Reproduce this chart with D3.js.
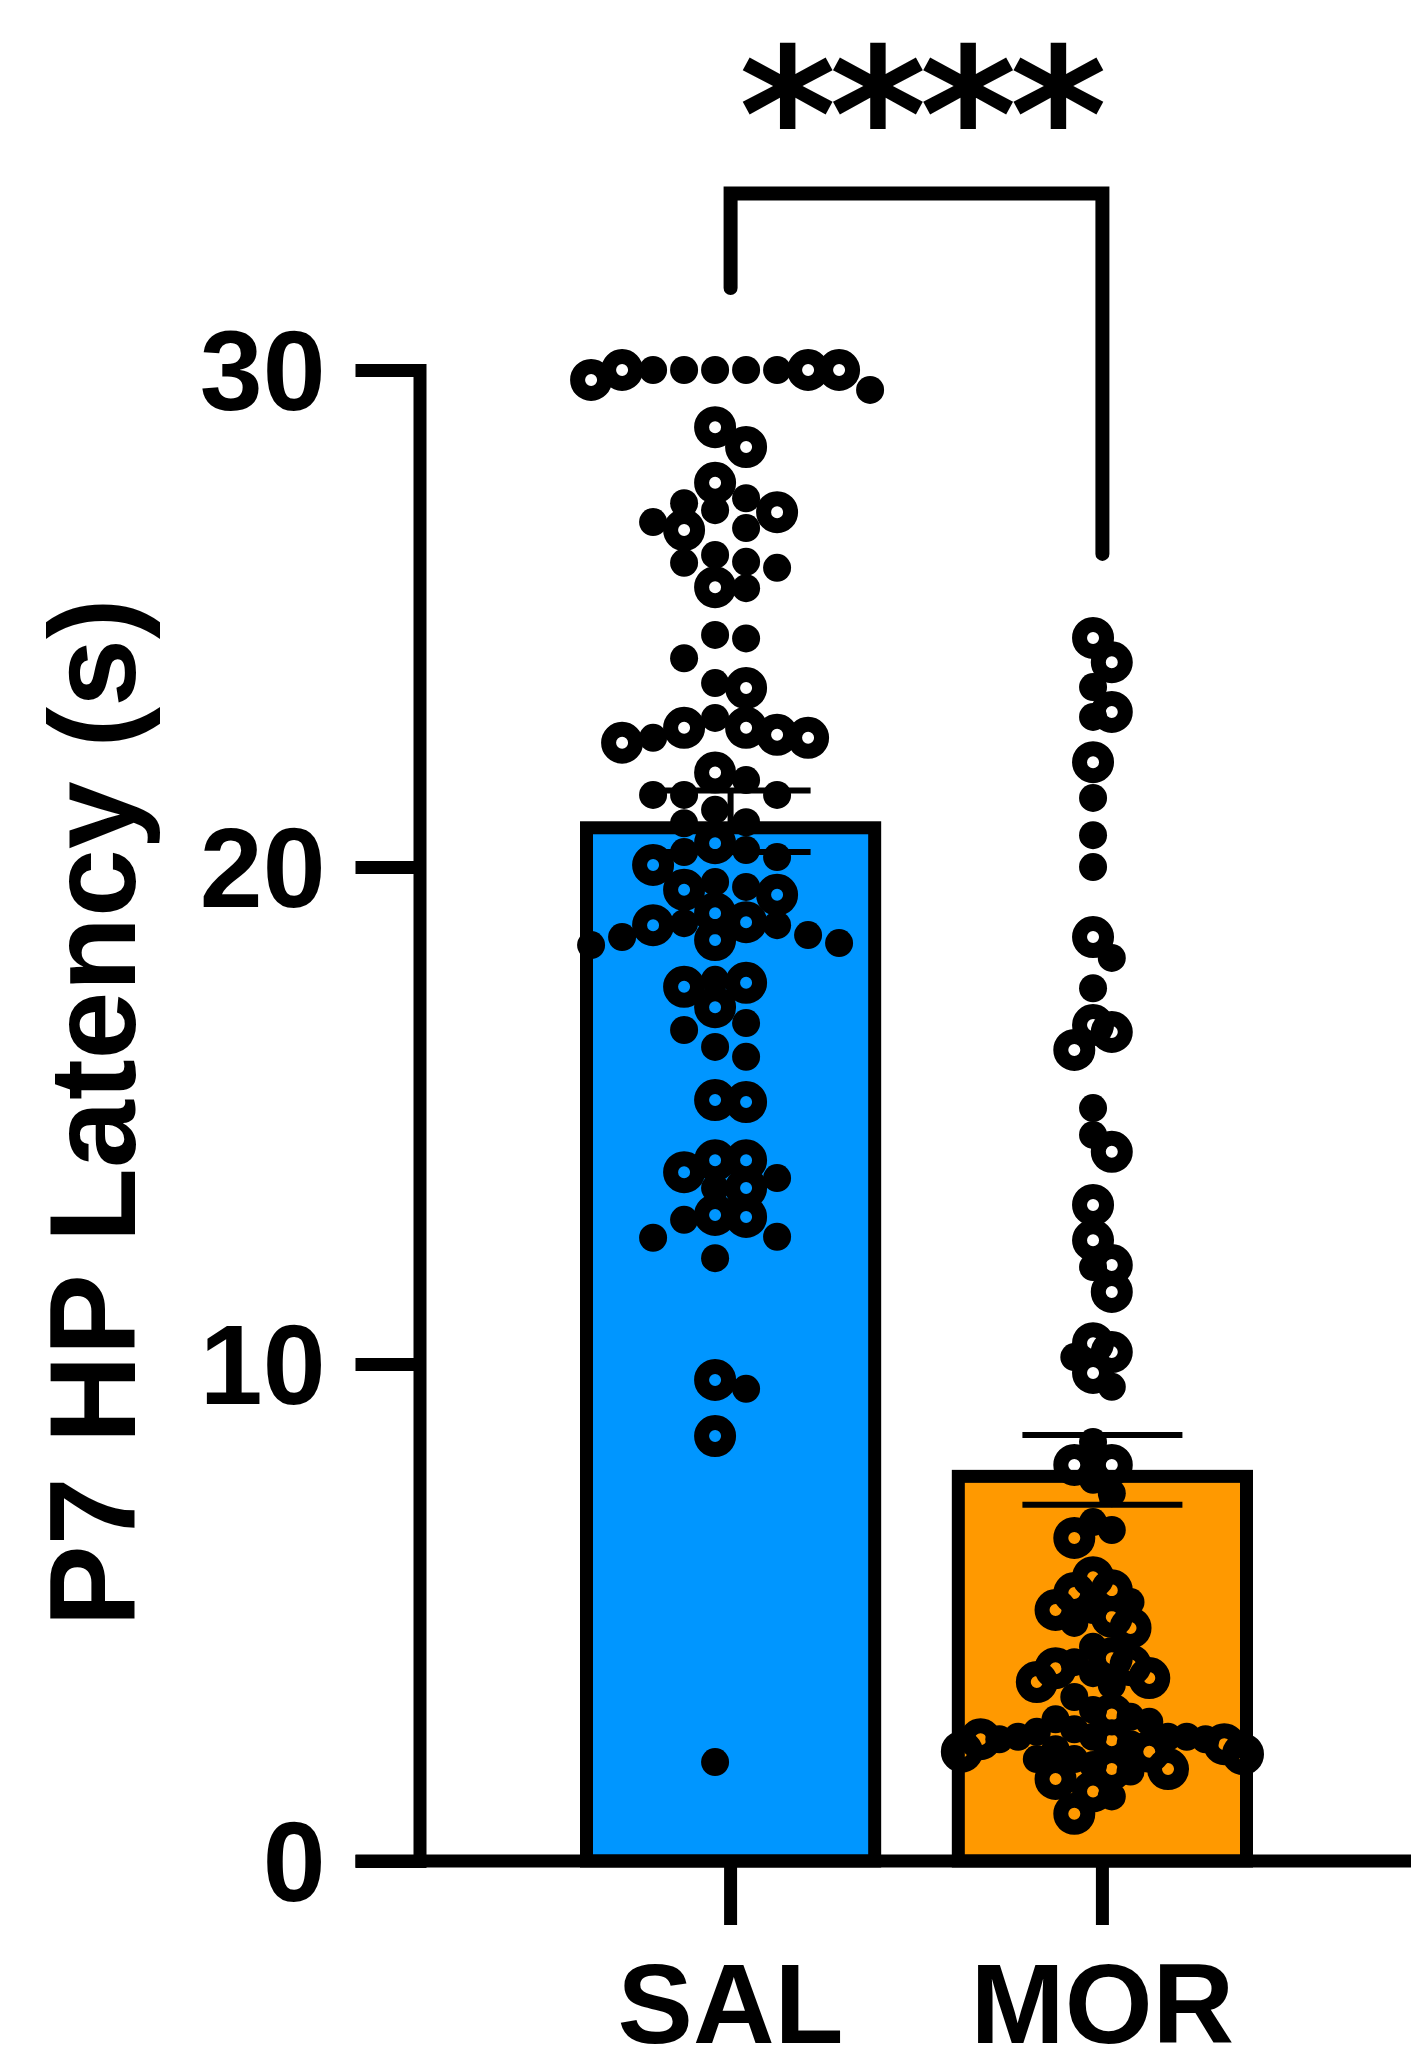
<!DOCTYPE html>
<html>
<head>
<meta charset="utf-8">
<script src="https://cdn.jsdelivr.net/npm/d3@7"></script>
<style>
  html, body { margin: 0; padding: 0; background: #fff; }
  svg { display: block; }
</style>
</head>
<body>
<svg id="chart" width="1411" height="2068"></svg>
<script>
// ---- data ----
const categories = ["SAL", "MOR"];
const barColors = ["#0096FF", "#FF9900"];
const barMeans = [20.92, 7.87];
const barSEM = [0.62, 0.70];
const yTicks = [0, 10, 20, 30];
const yLabel = "P7 HP Latency (s)";
const significance = "****";

// individual latencies (s); filled and open symbols are the two subgroups
const salFilled = [30.0, 30.0, 30.0, 30.0, 30.0, 29.6, 27.32, 27.42, 26.94, 26.82, 27.18, 26.02, 26.28,
  25.61, 26.12, 26.14, 24.6, 24.67, 24.2, 23.7, 22.6, 23.0, 21.75, 21.45, 21.45, 21.45, 21.15, 20.9,
  20.88, 20.2, 20.3, 20.34, 19.6, 19.7, 18.87, 18.47, 18.59, 18.43, 18.63, 18.83, 17.73, 16.86, 16.72,
  16.38, 16.18, 13.74, 13.54, 12.9, 12.56, 12.54, 12.13, 9.5, 1.99];
const salOpen = [30.0, 29.8, 30.0, 30.0, 28.85, 28.45, 27.73, 26.78, 27.14, 25.63, 23.6, 22.5, 22.66,
  22.6, 22.8, 22.8, 21.9, 20.48, 20.04, 19.54, 19.44, 19.07, 18.83, 18.53, 18.89, 17.67, 17.59, 17.18,
  15.31, 15.27, 14.1, 14.1, 13.86, 13.54, 13.0, 12.96, 9.68, 8.55];
const morFilled = [23.62, 23.02, 21.39, 20.64, 20.0, 18.17, 17.56, 15.15, 14.61, 11.95, 10.14, 9.54,
  8.43, 7.67, 7.4, 6.82, 6.66, 4.79, 5.21, 5.05, 3.78, 3.54, 4.31, 3.3, 4.0, 3.04, 2.9, 2.85, 2.45,
  2.25, 2.05, 2.5, 2.5, 2.6, 2.8, 2.5, 2.65, 2.35, 2.45, 2.5, 1.93, 2.05, 1.3, 1.8];
const morOpen = [24.61, 24.12, 23.12, 22.11, 18.59, 16.82, 16.68, 16.32, 14.27, 13.2, 12.49, 11.99,
  11.45, 10.42, 10.24, 9.82, 7.97, 7.97, 6.5, 5.71, 5.39, 5.05, 5.45, 4.91, 4.69, 4.08, 3.6, 3.88,
  3.68, 3.94, 2.95, 2.43, 2.2, 2.45, 2.35, 2.2, 2.15, 1.65, 1.85, 1.4, 1.85, 0.95];

const groups = [
  { name: "SAL", filled: salFilled, open: salOpen },
  { name: "MOR", filled: morFilled, open: morOpen }
];

// ---- layout ----
const W = 1411, H = 2068;
const svg = d3.select("#chart");
const sans = "'Liberation Sans', Arial, Helvetica, sans-serif";

const y = d3.scaleLinear().domain([0, 30]).range([1861, 370]);
const x = d3.scaleBand().domain(categories).range([580, 1253]).paddingInner(0.19).paddingOuter(0);

const axisW = 13;      // axis / bar outline thickness
const tickLen = 64;
const axisX = 419.5;
const tickFont = 113;

// ---- bars ----
const bw = x.bandwidth();
svg.append("g").selectAll("rect")
  .data(categories)
  .join("rect")
  .attr("x", d => x(d) + axisW / 2)
  .attr("width", bw - axisW)
  .attr("y", (d, i) => y(barMeans[i]) + axisW / 2)
  .attr("height", (d, i) => y(0) - y(barMeans[i]) - axisW / 2)
  .attr("fill", (d, i) => barColors[i])
  .attr("stroke", "#000")
  .attr("stroke-width", axisW);

// ---- beeswarm placement on a column grid ----
const dmin = 25;          // minimum vertical gap (px) between points sharing a column
const maxSpacing = 31;

function swarm(group) {
  const items = [];
  group.filled.forEach(v => items.push({ v, kind: "filled" }));
  group.open.forEach(v => items.push({ v, kind: "open" }));
  items.forEach((d, i) => d.i = i);
  items.sort((a, b) => b.v - a.v || a.i - b.i);

  function assign(half) {
    const cols = new Map();
    let maxAbs = 0;
    const out = items.map(d => {
      const py = y(d.v);
      for (let k = 0; ; k++) {
        let s;
        if (half) { const m = Math.floor(k / 2); s = (k % 2 === 0) ? -(m + 0.5) : (m + 0.5); }
        else { const m = Math.ceil(k / 2); s = k === 0 ? 0 : (k % 2 === 1 ? -m : m); }
        const col = cols.get(s) || [];
        if (col.every(yy => Math.abs(yy - py) >= dmin)) {
          col.push(py); cols.set(s, col);
          maxAbs = Math.max(maxAbs, Math.abs(s));
          return { ...d, slot: s, py };
        }
      }
    });
    return { out, maxAbs };
  }
  const a = assign(false), b = assign(true);
  const best = b.maxAbs < a.maxAbs ? b : a;
  const halfW = bw / 2 - 10;
  const spacing = Math.min(maxSpacing, halfW / Math.max(best.maxAbs, 0.5));
  const cx = x(group.name) + bw / 2;
  return best.out.sort((p, q) => p.i - q.i).map(d => ({ ...d, px: cx + d.slot * spacing }));
}

const dotsG = svg.append("g");
groups.forEach(g => {
  const pts = swarm(g);
  dotsG.append("g").selectAll("circle")
    .data(pts)
    .join("circle")
    .attr("cx", d => d.px)
    .attr("cy", d => d.py)
    .attr("r", d => d.kind === "open" ? 13.5 : 14)
    .attr("fill", d => d.kind === "open" ? "none" : "#000")
    .attr("stroke", d => d.kind === "open" ? "#000" : "none")
    .attr("stroke-width", 15);
});

// ---- SEM error bars ----
const capHalf = 80;
const errG = svg.append("g").attr("stroke", "#000").attr("stroke-width", 6).attr("fill", "none");
categories.forEach((c, i) => {
  const cx = x(c) + bw / 2;
  const hi = y(barMeans[i] + barSEM[i]);
  const lo = y(barMeans[i] - barSEM[i]);
  errG.append("path")
    .attr("d", `M${cx - capHalf},${hi}H${cx + capHalf}M${cx},${hi}V${lo}M${cx - capHalf},${lo}H${cx + capHalf}`);
});

// ---- axes ----
const yAxis = d3.axisLeft(y).tickValues(yTicks).tickSize(tickLen).tickSizeOuter(0).tickPadding(30)
  .tickFormat(d3.format("d"));
const gy = svg.append("g").attr("transform", `translate(${axisX},0)`).call(yAxis);
gy.select(".domain").attr("stroke", "#000").attr("stroke-width", axisW).attr("stroke-linecap", "square");
gy.selectAll(".tick line").attr("stroke", "#000").attr("stroke-width", axisW);
gy.selectAll(".tick text")
  .attr("dy", null)
  .attr("dominant-baseline", "central")
  .attr("fill", "#000")
  .style("font-family", sans)
  .style("font-size", tickFont + "px")
  .style("font-weight", "bold");

// baseline of the x axis, running from the left end of the y ticks to the page edge
svg.append("line")
  .attr("x1", axisX - tickLen).attr("x2", W)
  .attr("y1", y(0)).attr("y2", y(0))
  .attr("stroke", "#000").attr("stroke-width", axisW);

const xAxis = d3.axisBottom(x).tickSize(tickLen).tickSizeOuter(0);
const gx = svg.append("g").attr("transform", `translate(0,${y(0)})`).call(xAxis);
gx.select(".domain").remove();
gx.selectAll(".tick line").attr("stroke", "#000").attr("stroke-width", axisW);
gx.selectAll(".tick text")
  .attr("dy", null)
  .attr("y", 182)
  .attr("fill", "#000")
  .style("font-family", sans)
  .style("font-size", tickFont + "px")
  .style("font-weight", "bold");

// ---- y axis title ----
svg.append("text")
  .attr("transform", `translate(135,${(y(0) + y(30)) / 2 - 3}) rotate(-90)`)
  .attr("text-anchor", "middle")
  .attr("fill", "#000")
  .style("font-family", sans)
  .style("font-size", "122px")
  .style("font-weight", "bold")
  .text(yLabel);

// ---- significance bracket ----
const cSal = x("SAL") + bw / 2, cMor = x("MOR") + bw / 2;
const bracketTop = 33.55, leftLegEnd = 31.65, rightLegEnd = 26.3;
svg.append("path")
  .attr("d", `M${cSal},${y(leftLegEnd)}V${y(bracketTop)}H${cMor}V${y(rightLegEnd)}`)
  .attr("fill", "none")
  .attr("stroke", "#000")
  .attr("stroke-width", 14)
  .attr("stroke-linecap", "round")
  .attr("stroke-linejoin", "miter");

svg.append("text")
  .attr("x", (cSal + cMor) / 2 + 3)
  .attr("y", 181)
  .attr("text-anchor", "middle")
  .attr("fill", "#000")
  .style("font-family", "'DejaVu Sans', sans-serif")
  .style("font-size", "186px")
  .style("font-weight", "bold")
  .style("letter-spacing", "-7px")
  .text(significance);
</script>
</body>
</html>
